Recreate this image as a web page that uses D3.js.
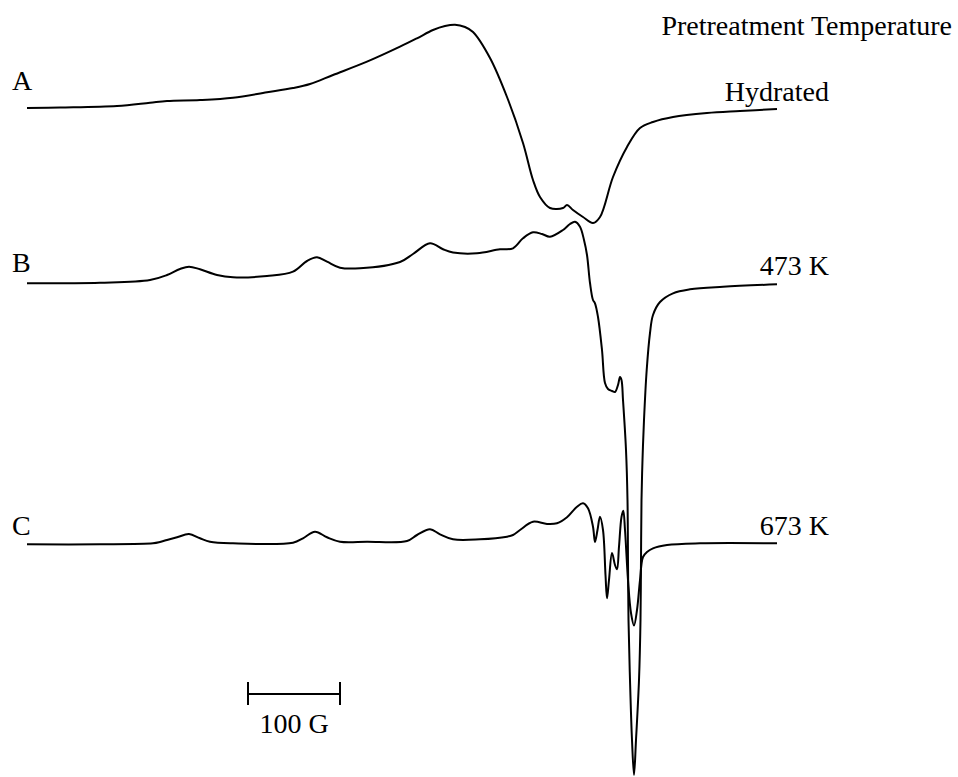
<!DOCTYPE html>
<html>
<head>
<meta charset="utf-8">
<script src="https://cdn.jsdelivr.net/npm/d3@7"></script>
<style>
  html, body { margin: 0; padding: 0; background: #fff; }
  svg { display: block; }
  text { font-family: "Liberation Serif", "Times New Roman", serif; fill: #000; }
</style>
</head>
<body>
<script>
// ---- data (field in arbitrary units, intensity relative to each trace baseline, up = positive)
const traceNames = ["A", "B", "C"];
const traceTemps = ["Hydrated", "473 K", "673 K"];
const traceOffsets = [0, -176, -436];   // vertical stacking offsets (intensity units)

const fieldA = [0,33,90,123,140,173,206,240,266,283,306,340,373,390,406,418,428,438,446,463,480,496,506,513,523,536,540,546,556,566,573,586,600,613,626,646,680,713,750];
const signalA = [0,0.5,2,5.3,7,8,10.3,15.7,20,24,33,46.3,61.3,69.7,78,82,83.3,81,76,50,11,-35,-72,-89,-100,-100,-97,-102,-109,-115,-109,-69,-39,-20,-14,-9,-5,-3,-1];

const fieldB = [0,73,123,140,153,162,173,190,206,240,266,280,290,300,313,333,373,386,403,416,426,450,473,486,496,506,515,523,536,543,548,553,557,560,563,566,568,571,575,578,581,585,588,591,593,594.5,596,599,600.5,601,601.5,603,605,607,609,612,613.5,614,614.5,615.5,617,619.7,623,626,633,646,663,696,750];
const signalB = [0.7,1.3,4,9,15,17.3,14.7,9,6.7,8,12.3,23,26.7,22.3,16.3,15.7,22,30,40.7,34.7,31.5,30.7,34.7,35.7,45.7,51.7,50,47.3,54,60,62.3,57.3,44,29,1,-16,-19.3,-33,-66,-99,-105,-107,-108,-101,-93,-96,-116,-166,-216,-276,-336,-396,-456,-491,-456,-396,-336,-276,-216,-176,-136,-86,-49,-31,-18,-9.3,-5.3,-2.7,-0.3];

const fieldC = [0,73,126,133,140,150,162,173,183,206,266,276,288,300,313,340,380,390,403,413,426,453,480,486,493,506,520,530,540,550,556,561,566,568,570.5,573,576,578.5,580,582,585,588,590,592,594.5,596.3,598,601,604,607,610,613,616,620,626,640,673,750];
const signalC = [-0.3,-0.3,0.7,2,4,6.7,10,5.7,2.3,0.7,1.3,5.7,12.3,6.7,2.3,2.3,3,9,14.7,9.7,4.7,4.7,7.3,9,14,22.3,20,20.7,26.7,37.3,40.7,35.7,17.3,2,14,27.3,14,-31,-54.3,-36,-9,-21,-25.3,-2.7,27,33.3,14,-36,-69,-81.5,-66,-36,-13,-8,-4.3,-1,0.7,0.7];

const scaleBarField = [221, 313];   // 100 G
const scaleBarLabel = "100 G";
const headerText = "Pretreatment Temperature";

// ---- layout
const W = 958, H = 777;
const svg = d3.select("body").append("svg").attr("width", W).attr("height", H);

const x = d3.scaleLinear().domain([0, 750]).range([27, 777]);
const y = d3.scaleLinear().domain([0, -700]).range([108, 808]);

const series = [
  { field: fieldA, signal: signalA },
  { field: fieldB, signal: signalB },
  { field: fieldC, signal: signalC }
];

const line = d3.line().curve(d3.curveCatmullRom.alpha(0.5));

series.forEach((s, i) => {
  const pts = s.field.map((f, k) => [x(f), y(s.signal[k] + traceOffsets[i])]);
  svg.append("path")
    .attr("d", line(pts))
    .attr("fill", "none")
    .attr("stroke", "#000")
    .attr("stroke-width", 2)
    .attr("stroke-linejoin", "round");
});

const fontSize = 28;
const letterDy = [-18, -12, -9];
const tempDy = [-7, -9, -9];

traceNames.forEach((t, i) => {
  svg.append("text")
    .attr("x", 12)
    .attr("y", y(traceOffsets[i]) + letterDy[i])
    .attr("font-size", fontSize)
    .text(t);
  svg.append("text")
    .attr("x", 829)
    .attr("y", y(traceOffsets[i]) + tempDy[i])
    .attr("text-anchor", "end")
    .attr("font-size", fontSize)
    .text(traceTemps[i]);
});

svg.append("text")
  .attr("x", 952)
  .attr("y", 35)
  .attr("text-anchor", "end")
  .attr("font-size", fontSize)
  .text(headerText);

// scale bar
const barY = 694;
const sb = svg.append("g").attr("stroke", "#000").attr("stroke-width", 2);
sb.append("line").attr("x1", x(scaleBarField[0])).attr("x2", x(scaleBarField[1])).attr("y1", barY).attr("y2", barY);
sb.append("line").attr("x1", x(scaleBarField[0])).attr("x2", x(scaleBarField[0])).attr("y1", barY - 12).attr("y2", barY + 11);
sb.append("line").attr("x1", x(scaleBarField[1])).attr("x2", x(scaleBarField[1])).attr("y1", barY - 12).attr("y2", barY + 11);
svg.append("text")
  .attr("x", (x(scaleBarField[0]) + x(scaleBarField[1])) / 2)
  .attr("y", 733)
  .attr("text-anchor", "middle")
  .attr("font-size", fontSize)
  .text(scaleBarLabel);
</script>
</body>
</html>
